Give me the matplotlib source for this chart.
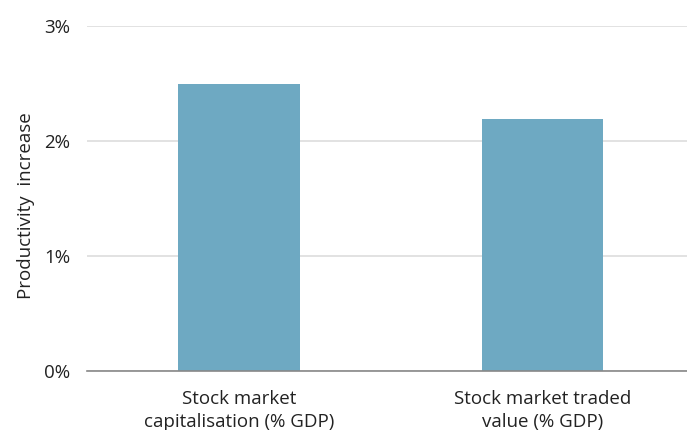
import matplotlib
matplotlib.use("Agg")
import matplotlib.pyplot as plt
from matplotlib.ticker import FuncFormatter

categories = ["Stock market\ncapitalisation (% GDP)", "Stock market traded\nvalue (% GDP)"]
values = [2.5, 2.19]
yticks = [0, 1, 2, 3]

plt.rcParams['font.family'] = ['Open Sans', 'DejaVu Sans']

fig = plt.figure(figsize=(6.87, 4.30), dpi=100)
ax = fig.add_axes([87/687, 1-371/430, 1-87/687, (371-26)/430])

x = list(range(len(categories)))
ax.bar(x, values, width=0.4, color="#6ea9c2", zorder=3)

ax.set_xlim(-0.5, 1.476)
ax.set_ylim(0, 3)
ax.set_yticks(yticks)
ax.yaxis.set_major_formatter(FuncFormatter(lambda v, p: f"{int(v)}%"))
ax.set_xticks(x)
ax.set_xticklabels(categories, fontsize=13.5, color="#222222", linespacing=1.3)

ax.grid(axis='y', color="#dddddd", linewidth=1.2, zorder=0)
for s in ["top", "right", "left"]:
    ax.spines[s].set_visible(False)
ax.spines["bottom"].set_color("#888888")
ax.spines["bottom"].set_linewidth(1.2)
ax.spines["bottom"].set_zorder(4)
ax.tick_params(axis='both', length=0)
ax.tick_params(axis='y', labelsize=13.5, labelcolor="#222222", pad=12)
ax.tick_params(axis='x', pad=14)
ax.set_ylabel("Productivity  increase", fontsize=13.5, color="#222222")
ax.yaxis.set_label_coords(-0.087, 0.48)

fig.savefig("out.png", dpi=100)
